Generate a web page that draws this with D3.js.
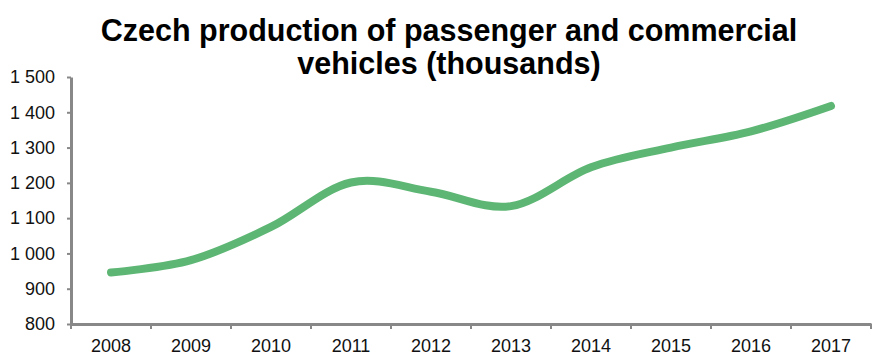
<!DOCTYPE html>
<html>
<head>
<meta charset="utf-8">
<script src="https://cdn.jsdelivr.net/npm/d3@7"></script>
<style>
  body { margin: 0; background: #fff; }
  text { font-family: "Liberation Sans", Arial, sans-serif; }
</style>
</head>
<body>
<svg id="chart" width="882" height="364"></svg>
<script>
// data
const years = ['2008', '2009', '2010', '2011', '2012', '2013', '2014', '2015', '2016', '2017']
const production = [946, 981, 1075, 1201, 1175, 1134, 1244, 1300, 1346, 1418]
const yTicks = [800, 900, 1000, 1100, 1200, 1300, 1400, 1500]
const titleLines = ['Czech production of passenger and commercial', 'vehicles (thousands)']

const svg = d3.select('#chart')
const margin = { left: 71, right: 11, top: 77, bottom: 40 }
const axisColor = '#888888'

const x = d3.scaleBand()
  .domain(years)
  .range([margin.left, 871])

const y = d3.scaleLinear()
  .domain([800, 1500])
  .range([324, 77])

// title
svg.append('text')
  .attr('x', 449)
  .attr('y', 41)
  .attr('text-anchor', 'middle')
  .style('font-size', '30.5px')
  .style('font-weight', 'bold')
  .selectAll('tspan')
  .data(titleLines)
  .enter()
  .append('tspan')
  .attr('x', 449)
  .attr('dy', (d, i) => i === 0 ? 0 : 33)
  .text(d => d)

// y axis
const fmt = v => d3.format(',')(v).replace(',', ' ')
const yAxis = svg.append('g')
  .attr('transform', 'translate(' + margin.left + ',0)')
  .call(d3.axisLeft(y).tickValues(yTicks).tickSize(4).tickSizeOuter(0).tickFormat(fmt))
yAxis.select('.domain').attr('stroke', axisColor).attr('stroke-width', 3)
yAxis.selectAll('.tick line').attr('stroke', axisColor).attr('stroke-width', 2)
yAxis.selectAll('.tick text')
  .attr('x', -16)
  .style('font-size', '18px')
  .attr('fill', '#111')
  .style('font-family', '"Liberation Sans", Arial, sans-serif')

// x axis: ticks between categories
const xAxis = svg.append('g')
  .attr('transform', 'translate(0,' + y(800) + ')')
  .call(d3.axisBottom(x).tickSize(0).tickSizeOuter(0))
xAxis.select('.domain').attr('stroke', axisColor).attr('stroke-width', 3)
xAxis.selectAll('.tick text')
  .attr('y', 15)
  .attr('dy', '0.71em')
  .style('font-size', '18px')
  .attr('fill', '#111')
  .style('font-family', '"Liberation Sans", Arial, sans-serif')

const bounds = years.map(d => x(d)).concat([x(years[years.length - 1]) + x.bandwidth()])
svg.append('g')
  .selectAll('line')
  .data(bounds)
  .enter()
  .append('line')
  .attr('x1', d => d)
  .attr('x2', d => d)
  .attr('y1', y(800))
  .attr('y2', y(800) + 5)
  .attr('stroke', axisColor)
  .attr('stroke-width', 2)

// smoothed line
const line = d3.line()
  .x((d, i) => x(years[i]) + x.bandwidth() / 2)
  .y(d => y(d))
  .curve(d3.curveCardinal.tension(0))

svg.append('path')
  .attr('d', line(production))
  .attr('fill', 'none')
  .attr('stroke', '#5db674')
  .attr('stroke-width', 8)
  .attr('stroke-linecap', 'round')
</script>
</body>
</html>
